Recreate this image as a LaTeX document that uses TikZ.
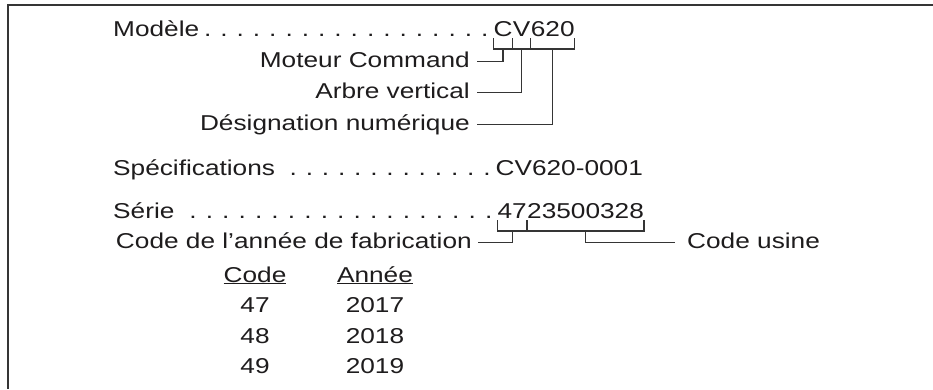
\documentclass[tikz,border=0pt]{standalone}
\usepackage{fontspec}
\setmainfont[FakeStretch=1.22]{Liberation Sans}
\usepackage{xcolor}
\usetikzlibrary{positioning, calc}

\definecolor{ink}{HTML}{1E1C1D}
\definecolor{rule}{HTML}{353535}

\newcommand{\dotrow}[2]{\hbox to #2{#1\xleaders\hbox to 15.7pt{\hss.\hss}\hfill}}

\begin{document}
\begin{tikzpicture}[
    x=1pt, y=-1pt,
    txt/.style={inner sep=0pt, font=\fontsize{21.5}{26}\selectfont, text=ink, anchor=base west},
    lbl/.style={txt, anchor=base east, text height=15pt, text depth=4pt},
    brk/.style={draw=rule, line width=1.3pt},
    frame/.style={draw=rule, line width=1.6pt},
]
\useasboundingbox (0,0) rectangle (933,389);
\draw[frame] (933,5) -- (8,5) -- (8,389);

\node[txt] (modele) at (113,36) {\dotrow{Modèle}{380pt}};
\node[txt] (c) at (modele.base east) {C};
\node[txt] (v) at (c.base east) {V};
\node[txt] (num) at (v.base east) {620};

\node[lbl] (moteur) at (470,67) {Moteur Command};
\node[lbl] (arbre) at (470,98) {Arbre vertical};
\node[lbl] (design) at (470,130) {Désignation numérique};

\draw[brk] ([yshift=-2pt]c.base west) -- ++(0,-11pt) -| ([yshift=-2pt]c.base east);
\draw[brk] ([yshift=-2pt]v.base west) -- ++(0,-11pt) -| ([yshift=-2pt]v.base east);
\draw[brk] ([yshift=-2pt]num.base west) -- ++(0,-11pt) -| ([yshift=-2pt]num.base east);

\draw[brk] ([yshift=-13pt]$(c.base west)!.5!(c.base east)$) |- ([xshift=7pt]moteur.east);
\draw[brk] ([yshift=-13pt]$(v.base west)!.5!(v.base east)$) |- ([xshift=7pt]arbre.east);
\draw[brk] ([yshift=-13pt]$(num.base west)!.5!(num.base east)$) |- ([xshift=7pt]design.east);

\node[txt] (spec) at (113,175) {\dotrow{Spécifications\hspace{10pt}}{382pt}};
\node[txt] (specval) at (spec.base east) {CV620-0001};

\node[txt] (serie) at (113,218) {\dotrow{Série\hspace{10pt}}{384pt}};
\node[txt] (an) at (serie.base east) {47};
\node[txt] (usine) at (an.base east) {23500328};

\node[lbl] (fab) at (472,248) {Code de l’année de fabrication};
\node[txt, text height=15pt, text depth=4pt] (codeusine) at (687,248) {Code usine};

\draw[brk] ([yshift=-2pt]an.base west) -- ++(0,-11pt) -| ([yshift=-2pt]an.base east);
\draw[brk] ([yshift=-2pt]usine.base west) -- ++(0,-11pt) -| ([yshift=-2pt]usine.base east);

\draw[brk] ([yshift=-13pt]$(an.base west)!.5!(an.base east)$) |- ([xshift=6pt]fab.east);
\draw[brk] ([yshift=-13pt]$(usine.base west)!.5!(usine.base east)$) |- ([xshift=-12pt]codeusine.west);

\node[txt, anchor=base] (hcode) at (255,282) {\underline{Code}};
\node[txt, anchor=base] (hannee) at (375,282) {\underline{Année}};
\foreach \c/\a [count=\i] in {47/2017, 48/2018, 49/2019} {
    \node[txt, anchor=base] (code\i) at (255,282+30.5*\i) {\c};
    \node[txt, anchor=base] (annee\i) at (375,282+30.5*\i) {\a};
}
\end{tikzpicture}
\end{document}
